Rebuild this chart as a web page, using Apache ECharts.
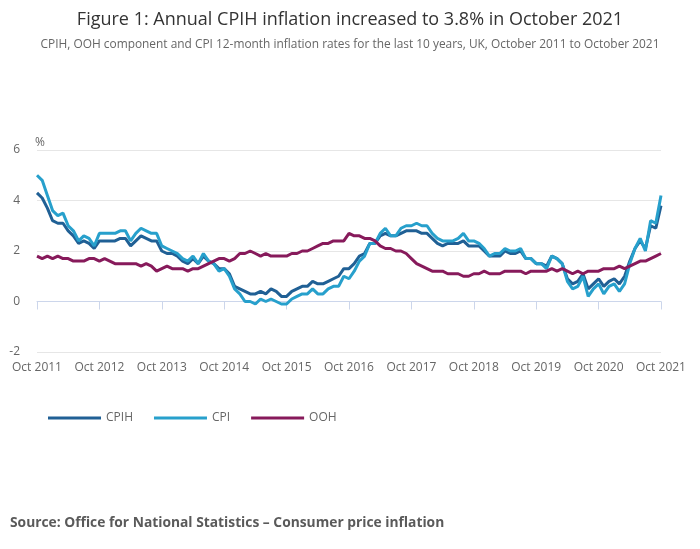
<!DOCTYPE html>
<html>
<head>
<meta charset="utf-8">
<script src="https://cdn.jsdelivr.net/npm/echarts@6/dist/echarts.min.js"></script>
<style>
html,body{margin:0;padding:0;background:#fff;}
#chart{width:700px;height:549px;}
</style>
</head>
<body>
<div id="chart"></div>
<script>
var monthNames = ['Jan','Feb','Mar','Apr','May','Jun','Jul','Aug','Sep','Oct','Nov','Dec'];
var categories = [];
for (var k = 0; k <= 120; k++) {
  var m = (9 + k) % 12;
  var y = 2011 + Math.floor((9 + k) / 12);
  categories.push(monthNames[m] + ' ' + y);
}

var cpih = [
  4.3,4.1,3.7,
  3.2,3.1,3.1,2.8,2.6,2.3,2.4,2.3,2.1,2.4,2.4,2.4,
  2.4,2.5,2.5,2.2,2.4,2.6,2.5,2.4,2.4,2.0,1.9,1.9,
  1.8,1.6,1.5,1.7,1.5,1.8,1.6,1.5,1.3,1.3,1.1,0.6,
  0.5,0.4,0.3,0.3,0.4,0.3,0.5,0.4,0.2,0.2,0.4,0.5,
  0.6,0.6,0.8,0.7,0.7,0.8,0.9,1.0,1.3,1.3,1.5,1.8,
  1.9,2.3,2.3,2.6,2.7,2.6,2.6,2.7,2.8,2.8,2.8,2.7,
  2.7,2.5,2.3,2.2,2.3,2.3,2.3,2.4,2.2,2.2,2.2,2.0,
  1.8,1.8,1.8,2.0,1.9,1.9,2.0,1.7,1.7,1.5,1.5,1.4,
  1.8,1.7,1.5,0.9,0.7,0.8,1.1,0.5,0.7,0.9,0.6,0.8,
  0.9,0.7,1.0,1.6,2.1,2.4,2.1,3.0,2.9,3.8
];

var cpi = [
  5.0,4.8,4.2,
  3.6,3.4,3.5,3.0,2.8,2.4,2.6,2.5,2.2,2.7,2.7,2.7,
  2.7,2.8,2.8,2.4,2.7,2.9,2.8,2.7,2.7,2.2,2.1,2.0,
  1.9,1.7,1.6,1.8,1.5,1.9,1.6,1.5,1.2,1.3,1.0,0.5,
  0.3,0.0,0.0,-0.1,0.1,0.0,0.1,0.0,-0.1,-0.1,0.1,0.2,
  0.3,0.3,0.5,0.3,0.3,0.5,0.6,0.6,1.0,0.9,1.2,1.6,
  1.8,2.3,2.3,2.7,2.9,2.6,2.6,2.9,3.0,3.0,3.1,3.0,
  3.0,2.7,2.5,2.4,2.4,2.4,2.5,2.7,2.4,2.4,2.3,2.1,
  1.8,1.9,1.9,2.1,2.0,2.0,2.1,1.7,1.7,1.5,1.5,1.3,
  1.8,1.7,1.5,0.8,0.5,0.6,1.0,0.2,0.5,0.7,0.3,0.6,
  0.7,0.4,0.7,1.5,2.1,2.5,2.0,3.2,3.1,4.2
];

var ooh = [
  1.8,1.7,1.8,
  1.7,1.8,1.7,1.7,1.6,1.6,1.6,1.7,1.7,1.6,1.7,1.6,
  1.5,1.5,1.5,1.5,1.5,1.4,1.5,1.4,1.2,1.3,1.4,1.3,
  1.3,1.3,1.2,1.3,1.3,1.4,1.5,1.6,1.7,1.7,1.6,1.7,
  1.9,1.9,2.0,1.9,1.8,1.9,1.8,1.8,1.8,1.8,1.9,1.9,
  2.0,2.0,2.1,2.2,2.3,2.3,2.4,2.4,2.4,2.7,2.6,2.6,
  2.5,2.5,2.4,2.2,2.1,2.1,2.0,2.0,1.9,1.7,1.5,1.4,
  1.3,1.2,1.2,1.2,1.1,1.1,1.1,1.0,1.0,1.1,1.1,1.2,
  1.1,1.1,1.1,1.2,1.2,1.2,1.2,1.1,1.2,1.2,1.2,1.2,
  1.3,1.2,1.3,1.2,1.1,1.2,1.1,1.2,1.2,1.2,1.3,1.3,
  1.3,1.4,1.3,1.4,1.5,1.6,1.6,1.7,1.8,1.9
];

var seriesNames = ['CPIH','CPI','OOH'];
var seriesColors = ['#206095','#27a0cc','#871a5b'];
var seriesData = [cpih, cpi, ooh];

var titleText = 'Figure 1: Annual CPIH inflation increased to 3.8% in October 2021';
var subtitleText = 'CPIH, OOH component and CPI 12-month inflation rates for the last 10 years, UK, October 2011 to October 2021';
var sourceText = 'Source: Office for National Statistics \u2013 Consumer price inflation';

var FONT = '"Open Sans", sans-serif';
var chart = echarts.init(document.getElementById('chart'), null, {renderer: 'canvas'});

chart.setOption({
  animation: false,
  backgroundColor: '#ffffff',
  textStyle: {fontFamily: FONT},
  title: [
    {
      text: titleText,
      subtext: subtitleText,
      left: 'center',
      top: 6,
      itemGap: 10,
      textStyle: {fontFamily: FONT, fontSize: 18, fontWeight: 'normal', color: '#333333'},
      subtextStyle: {fontFamily: FONT, fontSize: 11.9, color: '#666666'}
    },
    {
      text: sourceText,
      left: 5,
      top: 511,
      textStyle: {fontFamily: FONT, fontSize: 13.8, fontWeight: 'bold', color: '#5a5a5a'}
    }
  ],
  legend: {
    left: 43,
    top: 407,
    icon: 'rect',
    itemWidth: 53,
    itemHeight: 3,
    itemGap: 21,
    textStyle: {fontFamily: FONT, fontSize: 12, color: '#666666'},
    data: seriesNames
  },
  grid: {left: 37, right: 39, top: 150, height: 202, containLabel: false},
  xAxis: {
    type: 'category',
    data: categories,
    boundaryGap: false,
    axisLine: {show: true, lineStyle: {color: '#ccd6eb', width: 1}},
    axisTick: {show: true, interval: 11, length: 8, lineStyle: {color: '#ccd6eb'}},
    axisLabel: {
      interval: 11,
      margin: 10,
      fontFamily: FONT,
      fontSize: 12,
      color: '#666666'
    },
    splitLine: {show: false}
  },
  yAxis: {
    type: 'value',
    min: -2,
    max: 6,
    interval: 2,
    name: '%',
    nameLocation: 'end',
    nameGap: 1,
    nameTextStyle: {fontFamily: FONT, fontSize: 12, color: '#666666', align: 'left', padding: [0, 0, 0, -2]},
    axisLine: {show: false},
    axisTick: {show: false},
    axisLabel: {margin: 17, padding: [3, 0, 0, 0], fontFamily: FONT, fontSize: 12, color: '#666666'},
    splitLine: {lineStyle: {color: '#e6e6e6', width: 1}}
  },
  series: seriesNames.map(function (n, idx) {
    return {
      name: n,
      type: 'line',
      data: seriesData[idx],
      showSymbol: false,
      symbol: 'none',
      lineStyle: {width: 3, color: seriesColors[idx]},
      itemStyle: {color: seriesColors[idx]},
      emphasis: {disabled: true}
    };
  })
});
</script>
</body>
</html>
